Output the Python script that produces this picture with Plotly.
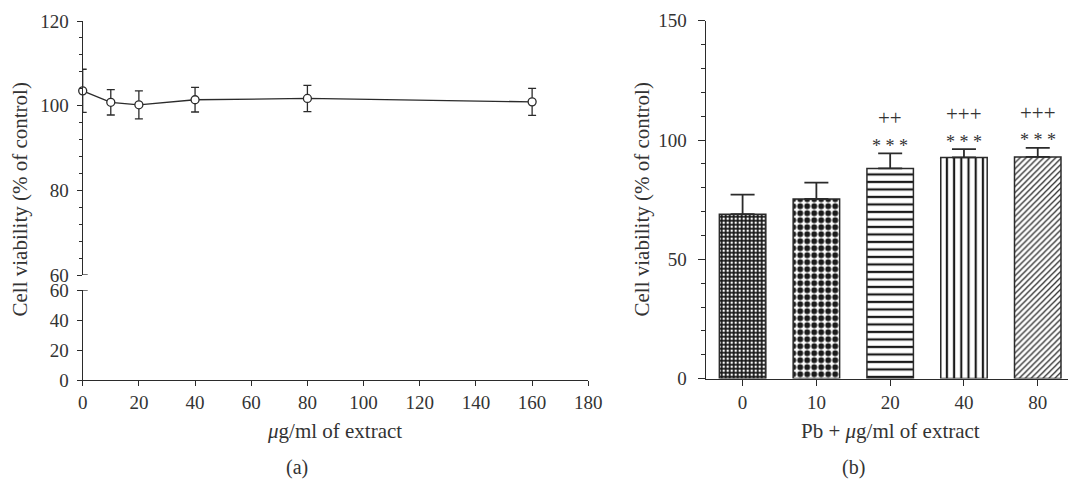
import plotly.graph_objects as go

# ---------------- data ----------------
# panel (a)
conc_a = [0, 10, 20, 40, 80, 160]
viab_a = [103.5, 100.8, 100.2, 101.4, 101.7, 100.9]
err_a = [5.1, 3.0, 3.3, 2.9, 3.1, 3.2]

# panel (b)
cats_b = ["0", "10", "20", "40", "80"]
viab_b = [68.9, 75.3, 88.1, 92.7, 92.9]
err_b = [8.2, 6.8, 6.3, 3.5, 3.8]
stars_b = ["", "", "* * *", "* * *", "* * *"]
plus_b = ["", "", "++", "+++", "+++"]

ytitle = "Cell viability (% of control)"
xtitle_a = "<i>μ</i>g/ml of extract"
xtitle_b = "Pb + <i>μ</i>g/ml of extract"

# ---------------- style ----------------
W, H = 1068, 481
FONT = "Liberation Serif, Times New Roman, DejaVu Serif, serif"
INK = "#2b2b2b"
TXT = "#333333"

def px_x(p):
    return p / W

def px_y(p):
    return 1 - p / H

fig = go.Figure()

# panel (a) line with error bars
fig.add_trace(go.Scatter(
    x=conc_a, y=viab_a, mode="lines+markers",
    xaxis="x", yaxis="y",
    line=dict(color=INK, width=1.3),
    marker=dict(symbol="circle", size=8, color="white",
                line=dict(color=INK, width=1.3)),
    error_y=dict(type="data", array=err_a, visible=True,
                 color=INK, thickness=1.3, width=4),
    cliponaxis=False, showlegend=False, hoverinfo="x+y",
))
# invisible trace to materialise lower broken-axis segment
fig.add_trace(go.Scatter(x=[None], y=[None], xaxis="x", yaxis="y2",
                         mode="markers", showlegend=False))

# panel (b) bars
fig.add_trace(go.Bar(
    x=cats_b, y=viab_b, xaxis="x2", yaxis="y3",
    width=0.63,
    marker=dict(
        color="white",
        line=dict(color=INK, width=1.5),
        pattern=dict(
            shape=[".", ".", "-", "|", "/"],
            bgcolor=["#1a1a1a", "white", "white", "white", "white"],
            fgcolor=["white", "#1a1a1a", "#1a1a1a", "#1a1a1a", "#2b2b2b"],
            size=[4, 7, 7.5, 7.2, 4.2],
            solidity=[0.3, 0.55, 0.3, 0.3, 0.3],
            fillmode="replace",
        ),
    ),
    error_y=dict(type="data", array=err_b, arrayminus=[0] * len(err_b),
                 symmetric=False, visible=True,
                 color=INK, thickness=1.8, width=12),
    showlegend=False,
))

# significance marks (category axis -> use serial index)
for i, (v, e, s, p) in enumerate(zip(viab_b, err_b, stars_b, plus_b)):
    if s:
        fig.add_annotation(x=i, y=v + e, xref="x2", yref="y3", text=s,
                           showarrow=False, xanchor="center",
                           yanchor="middle", yshift=7.5,
                           font=dict(family=FONT, size=18, color=TXT))
    if p:
        fig.add_annotation(x=i, y=v + e, xref="x2", yref="y3", text=p,
                           showarrow=False, xanchor="center",
                           yanchor="middle", yshift=35,
                           font=dict(family=FONT, size=21, color=TXT))

axis_common = dict(showline=True, linecolor=INK, linewidth=1.3,
                   ticks="outside", tickcolor=INK, tickwidth=1.3,
                   showgrid=False, zeroline=False, automargin=False,
                   tickfont=dict(family=FONT, size=19, color=TXT))

fig.update_layout(
    width=W, height=H, autosize=False,
    margin=dict(l=0, r=0, t=0, b=0, pad=0, autoexpand=False),
    paper_bgcolor="white", plot_bgcolor="rgba(0,0,0,0)",
    font=dict(family=FONT, color=TXT),
    xaxis=dict(domain=[px_x(82.7), px_x(588.3)], range=[0, 180],
               anchor="y2", dtick=20, tick0=0, ticklen=5, **axis_common),
    yaxis=dict(domain=[px_y(275), px_y(21)], range=[60, 120], anchor="x",
               tickvals=[60, 80, 100, 120], ticklen=5, ticklabelstandoff=4,
               minor=dict(dtick=4, tick0=60, ticks="outside", ticklen=3,
                          tickcolor=INK, tickwidth=1.3),
               **axis_common),
    yaxis2=dict(domain=[px_y(380), px_y(290)], range=[0, 60], anchor="x",
                tickvals=[0, 20, 40, 60], ticklen=5, ticklabelstandoff=4,
                **axis_common),
    xaxis2=dict(domain=[px_x(705.7), 1.0], type="category",
                range=[-0.5, 4.41], anchor="y3", ticklen=6, **axis_common),
    yaxis3=dict(domain=[px_y(378.6), px_y(20.7)], range=[0, 150],
                anchor="x2", dtick=50, ticklen=7, ticklabelstandoff=7,
                minor=dict(dtick=10, ticks="outside", ticklen=4,
                           tickcolor=INK, tickwidth=1.3),
                **axis_common),
    bargap=0.37,
)

# axis-break marks on panel (a)
for yr in ("y", "y2"):
    fig.add_shape(type="line", xref="x domain", yref=yr,
                  x0=0, x1=5 / (588.3 - 82.7), y0=60, y1=60,
                  line=dict(color=INK, width=1.3))

# titles and panel labels
def label(x, y, text, angle=0, size=21):
    fig.add_annotation(x=px_x(x), y=px_y(y), xref="paper", yref="paper",
                       text=text, textangle=angle, showarrow=False,
                       xanchor="center", yanchor="middle",
                       font=dict(family=FONT, size=size, color=TXT))

label(19.5, 200, ytitle, -90)
label(641.5, 200, ytitle, -90)
label(334.7, 430.7, xtitle_a)
label(890.3, 430.5, xtitle_b)
label(297, 467.5, "(a)", size=20)
label(853, 467.5, "(b)", size=20)

fig.write_html(
    "out.html",
    post_script="document.body.style.margin='0';"
                "document.body.style.padding='0';"
                "document.body.style.overflow='hidden';",
)
